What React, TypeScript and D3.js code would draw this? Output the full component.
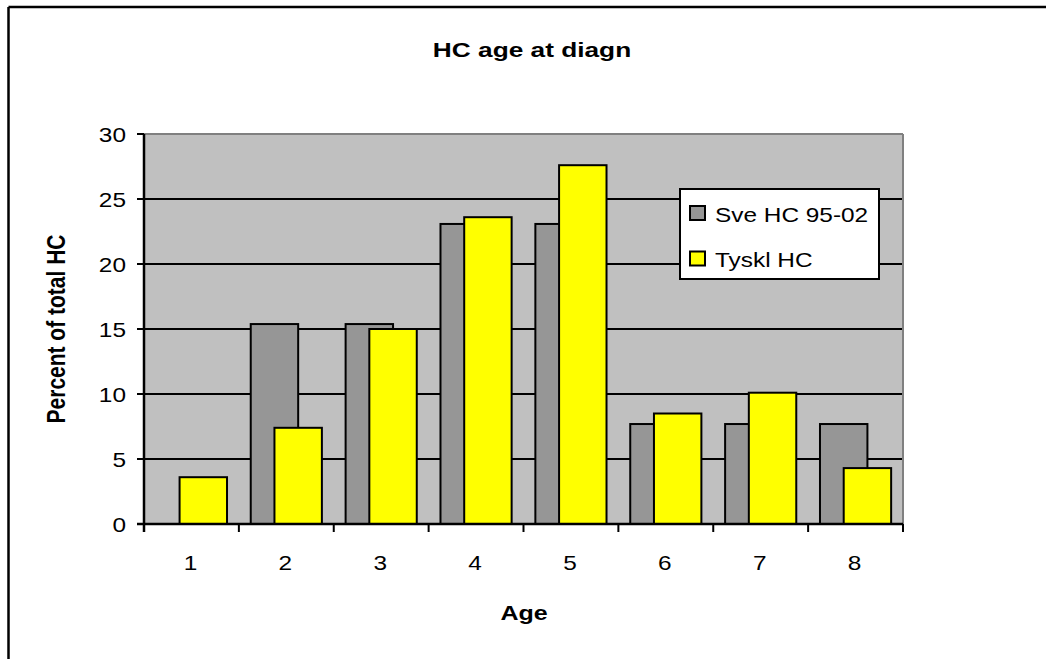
import React from 'react';
import * as d3 from 'd3';

const ages = ['1', '2', '3', '4', '5', '6', '7', '8'];
const sveHC = [0, 15.38, 15.38, 23.08, 23.08, 7.69, 7.69, 7.69];
const tysklHC = [3.6, 7.4, 15.0, 23.6, 27.6, 8.5, 10.1, 4.3];
const yTicks = [0, 5, 10, 15, 20, 25, 30];
const seriesNames = ['Sve HC 95-02', 'Tyskl HC'];
const seriesColors = ['#969696', '#FFFF00'];
const title = 'HC age at diagn';
const xTitle = 'Age';
const yTitle = 'Percent of total HC';

const FONT = '"Liberation Sans", Arial, sans-serif';

function T(props: {
  x: number; y: number; sx?: number; anchor?: string; size?: number; bold?: boolean; children: React.ReactNode;
}) {
  const { x, y, sx = 1.22, anchor = 'middle', size = 20, bold = false, children } = props;
  return (
    <text
      transform={`translate(${x},${y}) scale(${sx},1)`}
      textAnchor={anchor as any}
      fontFamily={FONT}
      fontSize={size}
      fontWeight={bold ? 'bold' : 'normal'}
      fill="#000"
    >
      {children}
    </text>
  );
}

export default function App() {
  const left = 144, right = 903, top = 134, bottom = 524;
  const x = d3.scaleBand<string>().domain(ages).range([left, right]).padding(0);
  const y = d3.scaleLinear().domain([0, 30]).range([bottom, top]);
  const bw = x.bandwidth();
  const w = bw / 2;
  const off = (bw - 1.5 * w) / 2;
  const series = [sveHC, tysklHC];

  return (
    <svg width={1046} height={659} style={{ position: 'absolute', left: 0, top: 0, background: '#fff' }}>
      {/* outer chart border (top and left edges visible) */}
      <line x1={8.5} x2={1046} y1={7} y2={7} stroke="#000" strokeWidth={2.5} />
      <line x1={8.5} x2={8.5} y1={7} y2={659} stroke="#000" strokeWidth={2.5} />

      {/* title */}
      <T x={532} y={57} sx={1.25} size={21} bold>{title}</T>

      {/* plot area */}
      <rect x={left} y={top} width={right - left} height={bottom - top} fill="#C0C0C0" />
      {yTicks.filter(t => t > 0 && t < 30).map(t => (
        <line key={t} x1={left} x2={right} y1={y(t)} y2={y(t)} stroke="#000" strokeWidth={2} />
      ))}
      <line x1={left} x2={right} y1={top} y2={top} stroke="#808080" strokeWidth={2} />
      <line x1={right} x2={right} y1={top} y2={bottom} stroke="#808080" strokeWidth={2} />

      {/* bars */}
      {series.map((vals, si) =>
        vals.map((v, i) => {
          if (v <= 0) return null;
          const x0 = (x(ages[i]) as number) + off + si * (w / 2);
          return (
            <rect key={`${si}-${i}`} x={x0} y={y(v)} width={w} height={bottom - y(v)}
              fill={seriesColors[si]} stroke="#000" strokeWidth={2} />
          );
        })
      )}

      {/* axes */}
      <line x1={left} x2={left} y1={top} y2={bottom + 8} stroke="#000" strokeWidth={2.5} />
      <line x1={left - 7} x2={right} y1={bottom} y2={bottom} stroke="#000" strokeWidth={2.5} />
      {yTicks.map(t => (
        <g key={t}>
          <line x1={left - 7} x2={left} y1={y(t)} y2={y(t)} stroke="#000" strokeWidth={2} />
          <T x={126} y={y(t) + 7.5} anchor="end" size={20}>{t}</T>
        </g>
      ))}
      {ages.map(a => (
        <line key={a} x1={(x(a) as number) + bw} x2={(x(a) as number) + bw} y1={bottom} y2={bottom + 8}
          stroke="#000" strokeWidth={2} />
      ))}
      {ages.map(a => (
        <T key={a} x={(x(a) as number) + bw / 2 - 1} y={570} size={20}>{a}</T>
      ))}

      {/* axis titles */}
      <T x={524} y={620} sx={1.25} size={20} bold>{xTitle}</T>
      <text
        transform={`translate(65,329) rotate(-90) scale(1,1.22)`}
        textAnchor="middle" fontFamily={FONT} fontSize={21} fontWeight="bold" fill="#000"
      >
        {yTitle}
      </text>

      {/* legend */}
      <rect x={680} y={189} width={199} height={90} fill="#fff" stroke="#000" strokeWidth={2} />
      {seriesNames.map((n, i) => (
        <g key={n}>
          <rect x={690} y={206 + i * 45.5} width={15} height={14} fill={seriesColors[i]} stroke="#000" strokeWidth={2} />
          <T x={715} y={221.5 + i * 45.5} anchor="start" size={20}>{n}</T>
        </g>
      ))}
    </svg>
  );
}
